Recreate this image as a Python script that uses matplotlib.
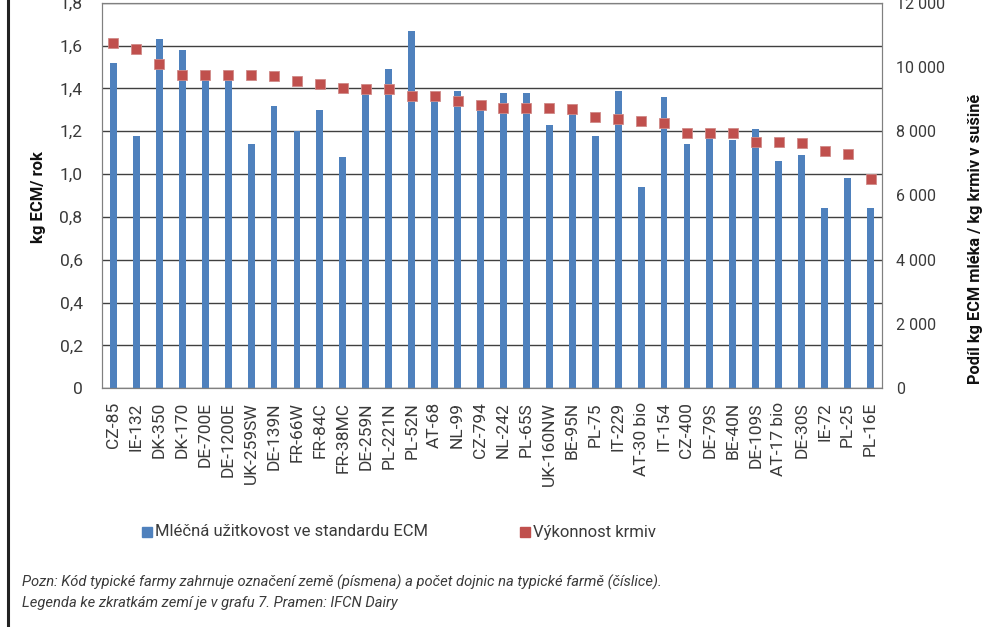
import matplotlib.pyplot as plt
import matplotlib.lines as mlines
import numpy as np

farmy = ['CZ-85', 'IE-132', 'DK-350', 'DK-170', 'DE-700E', 'DE-1200E', 'UK-259SW',
         'DE-139N', 'FR-66W', 'FR-84C', 'FR-38MC', 'DE-259N', 'PL-221N', 'PL-52N',
         'AT-68', 'NL-99', 'CZ-794', 'NL-242', 'PL-65S', 'UK-160NW', 'BE-95N',
         'PL-75', 'IT-229', 'AT-30 bio', 'IT-154', 'CZ-400', 'DE-79S', 'BE-40N',
         'DE-109S', 'AT-17 bio', 'DE-30S', 'IE-72', 'PL-25', 'PL-16E']
# kg ECM / rok (leva osa)
uzitkovost = [1.52, 1.18, 1.63, 1.58, 1.45, 1.45, 1.14, 1.32, 1.20, 1.30, 1.08,
              1.39, 1.49, 1.67, 1.34, 1.39, 1.33, 1.38, 1.38, 1.23, 1.30, 1.18,
              1.39, 0.94, 1.36, 1.14, 1.19, 1.16, 1.21, 1.06, 1.09, 0.84, 0.98, 0.84]
# vykonnost krmiv (prava osa)
vykonnost = [10740, 10550, 10090, 9760, 9760, 9760, 9760, 9720, 9560, 9470, 9350,
             9300, 9300, 9100, 9100, 8950, 8820, 8730, 8730, 8730, 8690, 8450,
             8370, 8330, 8250, 7960, 7960, 7960, 7670, 7670, 7620, 7380, 7300, 6520]

levy_ticks = [0, 0.2, 0.4, 0.6, 0.8, 1.0, 1.2, 1.4, 1.6, 1.8]
pravy_ticks = [0, 2000, 4000, 6000, 8000, 10000, 12000]

modra = '#4F81BD'
cervena = '#C0504D'
seda_text = '#3a3a3a'
plt.rcParams['font.family'] = ['Roboto', 'DejaVu Sans']

fig = plt.figure(figsize=(9.89, 6.27), dpi=100)
ax = fig.add_axes([0.1031, 0.3807, 0.7887, 0.615])
x = np.arange(len(farmy))

ax.bar(x, uzitkovost, width=0.3, color=modra, zorder=2)
ax.set_xlim(-0.5, len(farmy) - 0.5)
ax.set_ylim(0, 1.8)
ax.set_yticks(levy_ticks)
ax.set_yticklabels([('%.1f' % t).replace('.', ',') if t > 0 else '0' for t in levy_ticks])
ax.grid(axis='y', color='#404040', lw=1, zorder=1)
ax.set_xticks(x)
ax.set_xticklabels(farmy, rotation=90, fontsize=12.5, color=seda_text)
ax.tick_params(axis='x', length=0, pad=10)
ax.tick_params(axis='y', length=0, labelsize=12.5, labelcolor=seda_text, pad=14)
for s in ax.spines.values():
    s.set_color('#808080')

ax2 = ax.twinx()
ax2.plot(x, vykonnost, 's', color=cervena, ms=7.5, mec='#d08a88', mew=0.6, zorder=3)
ax2.set_ylim(0, 12000)
ax2.set_yticks(pravy_ticks)
ax2.set_yticklabels(['{:,}'.format(t).replace(',', ' ') for t in pravy_ticks])
ax2.tick_params(axis='y', length=0, labelsize=11.5, labelcolor=seda_text, pad=10)
for s in ax2.spines.values():
    s.set_color('#808080')

fig.text(0.039, 0.685, 'kg ECM/ rok', rotation=90, ha='center', va='center',
         fontsize=12, fontweight='bold', color='#111111')
fig.text(0.986, 0.619, 'Podíl kg ECM mléka / kg krmiv v sušině', rotation=90,
         ha='center', va='center', fontsize=11.8, fontweight='bold', color='#111111')

# legenda
leg_y = 1 - 532 / 627
fig.add_artist(mlines.Line2D([147 / 989], [leg_y], marker='s', ls='', color=modra, ms=6.5))
fig.text(155 / 989, leg_y, 'Mléčná užitkovost ve standardu ECM', fontsize=12,
         va='center', color=seda_text)
fig.add_artist(mlines.Line2D([525 / 989], [leg_y], marker='s', ls='', color=cervena, ms=6.5))
fig.text(533 / 989, leg_y, 'Výkonnost krmiv', fontsize=12, va='center', color=seda_text)

fig.text(0.022, 1 - 582 / 627, 'Pozn: Kód typické farmy zahrnuje označení země (písmena) a počet dojnic na typické farmě (číslice).',
         fontsize=10.6, style='italic', color=seda_text, va='center')
fig.text(0.022, 1 - 603 / 627, 'Legenda ke zkratkám zemí je v grafu 7. Pramen: IFCN Dairy',
         fontsize=10.6, style='italic', color=seda_text, va='center')

# svisla cara vlevo
fig.add_artist(mlines.Line2D([0.008, 0.008], [0, 1], color='#222222', lw=2.2))

fig.savefig('out.png', dpi=100)
